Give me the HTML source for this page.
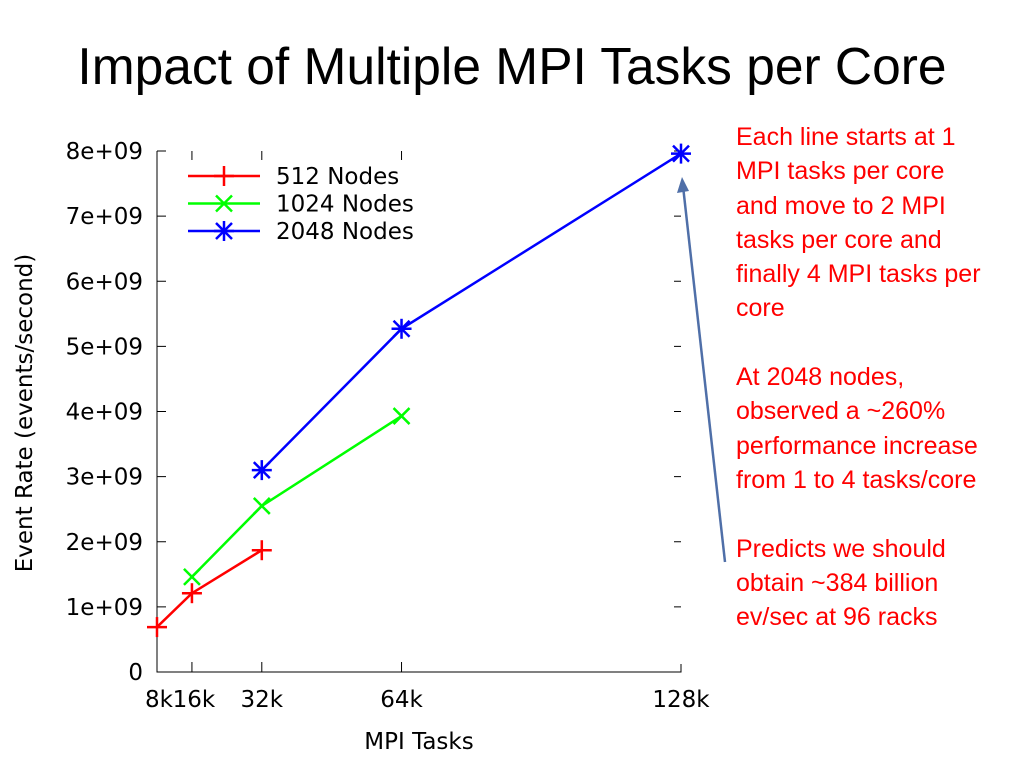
<!DOCTYPE html>
<html><head><meta charset="utf-8"><style>
body{margin:0;background:#fff;width:1024px;height:768px;overflow:hidden;font-family:"Liberation Sans",sans-serif}
#title{position:absolute;left:0;width:1024px;top:36px;text-align:center;font-size:51.5px;color:#000;white-space:nowrap}
#note{position:absolute;left:736px;top:120px;color:#ff0000;font-size:25px;line-height:34.3px;white-space:nowrap}
</style></head><body>
<div id="title">Impact of Multiple MPI Tasks per Core</div>
<div id="note">Each line starts at 1<br>MPI tasks per core<br>and move to 2 MPI<br>tasks per core and<br>finally 4 MPI tasks per<br>core<br><br>At 2048 nodes,<br>observed a ~260%<br>performance increase<br>from 1 to 4 tasks/core<br><br>Predicts we should<br>obtain ~384 billion<br>ev/sec at 96 racks</div>
<svg id="chart" width="1024" height="768" style="position:absolute;left:0;top:0" font-family="DejaVu Sans, sans-serif"></svg>
<script>
const xTicks=[8,16,32,64,128];
const xTickLabels=["8k","16k","32k","64k","128k"];
const yTicks=[0,1,2,3,4,5,6,7,8];
const yTickLabels=["0","1e+09","2e+09","3e+09","4e+09","5e+09","6e+09","7e+09","8e+09"];
const seriesNames=["512 Nodes","1024 Nodes","2048 Nodes"];
const x512=[8,16,32], y512=[0.69,1.21,1.87];
const x1024=[16,32,64], y1024=[1.46,2.55,3.93];
const x2048=[32,64,128], y2048=[3.10,5.27,7.96];
const svg=document.getElementById('chart');const NS='http://www.w3.org/2000/svg';
const X0=157,X1=681,Y0=672,Y1=151,FS=23;
const sx=v=>X0+(v-8)/(128-8)*(X1-X0);
const sy=v=>Y0-v/8*(Y0-Y1);
function mk(t,a,p){const e=document.createElementNS(NS,t);for(const k in a)e.setAttribute(k,a[k]);(p||svg).appendChild(e);return e;}
let e;
e=mk('path',{d:`M${X0},${Y1} V${Y0} H${X1} V${Y0-8}`,stroke:'#000','stroke-width':1,fill:'none'});


yTicks.forEach((v,i)=>{const y=sy(v);
 if(i>0){mk('line',{x1:X0,x2:X0+9,y1:y,y2:y,stroke:'#000'});mk('line',{x1:X1-7,x2:X1,y1:y,y2:y,stroke:'#000'});}
 e=mk('text',{x:X0-14,y:y+8,'text-anchor':'end','font-size':FS});e.textContent=yTickLabels[i];
 
 });
xTicks.forEach((v,i)=>{const x=sx(v);
 if(i>0&&i<4){mk('line',{x1:x,x2:x,y1:Y0,y2:Y0-10,stroke:'#000'});mk('line',{x1:x,x2:x,y1:Y1,y2:Y1+9,stroke:'#000'});}
 e=mk('text',{x:i==0?x+2:(i==1?x+2:x),y:707,'text-anchor':'middle','font-size':FS});e.textContent=xTickLabels[i];
 
 });
e=mk('text',{x:419,y:749,'text-anchor':'middle','font-size':FS});e.textContent='MPI Tasks';


e=mk('text',{x:0,y:0,'text-anchor':'middle','font-size':FS,transform:'translate(32,413) rotate(-90)'});e.textContent='Event Rate (events/second)';


function marker(type,x,y,c){const s=10,g=[];
 if(type!=1){g.push([x-s,y,x+s,y],[x,y-s,x,y+s]);}
 if(type!=0){g.push([x-s*.8,y-s*.8,x+s*.8,y+s*.8],[x-s*.8,y+s*.8,x+s*.8,y-s*.8]);}
 g.forEach(l=>mk('line',{x1:l[0],y1:l[1],x2:l[2],y2:l[3],stroke:c,'stroke-width':2.5}));}
const all=[[x512,y512,'#ff0000',0,'series-512-nodes'],[x1024,y1024,'#00ff00',1,'series-1024-nodes'],[x2048,y2048,'#0000ff',2,'series-2048-nodes']];
all.forEach((s,k)=>{
 e=mk('polyline',{points:s[0].map((v,i)=>sx(v)+','+sy(s[1][i])).join(' '),stroke:s[2],'stroke-width':2.5,fill:'none'});
 
 
 s[0].forEach((v,i)=>marker(s[3],sx(v),sy(s[1][i]),s[2]));
 const ly=176+k*27.5;
 mk('line',{x1:188,x2:260,y1:ly,y2:ly,stroke:s[2],'stroke-width':2.5});
 marker(s[3],224,ly,s[2]);
 e=mk('text',{x:276,y:ly+8,'font-size':FS});e.textContent=seriesNames[k];
 
 
});
e=mk('line',{x1:725,y1:562,x2:683,y2:186,stroke:'#4f6fa8','stroke-width':2.5});


mk('path',{d:'M682,177 L677,193 L689,191 Z',fill:'#4f6fa8'});
</script>
</body></html>
